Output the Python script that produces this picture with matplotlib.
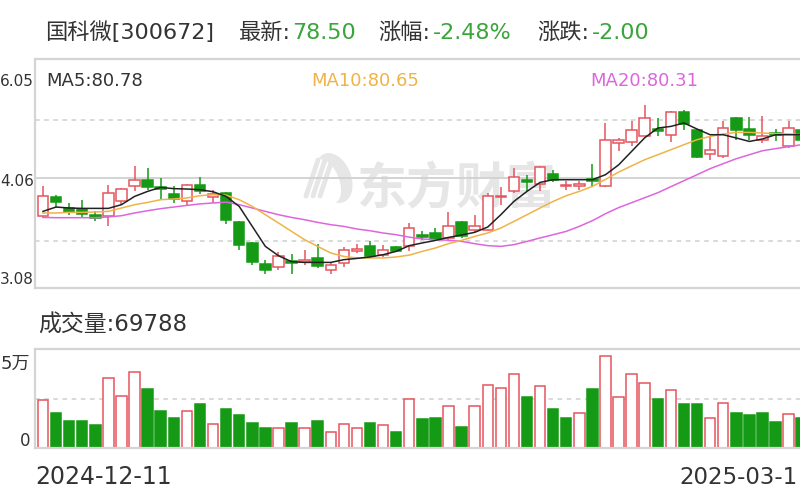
import numpy as np
import matplotlib.pyplot as plt
from matplotlib.patches import Rectangle, Ellipse
from matplotlib.transforms import Affine2D

plt.rcParams['font.family'] = ['DejaVu Sans', 'Noto Sans CJK SC']

########################################################################
# Data
########################################################################
opens = [79.89, 81.91, 80.74, 80.67, 79.93, 79.89, 81.55, 83.21, 83.79, 83.10,
         82.32, 81.47, 83.32, 81.91, 82.40, 79.15, 76.88, 74.59, 74.22, 74.86,
         74.73, 75.22, 73.85, 74.67, 75.95, 76.58, 75.58, 76.39, 76.50, 77.74,
         77.98, 77.43, 79.15, 78.34, 78.34, 81.96, 82.58, 83.79, 83.43, 84.53,
         83.13, 83.21, 83.95, 83.13, 87.93, 88.04, 88.73, 89.47, 88.84, 91.31,
         89.32, 86.74, 86.52, 90.69, 89.47, 88.29, 89.03, 87.55, 89.39]
highs = [83.21, 82.21, 81.30, 81.66, 80.37, 83.32, 82.99, 85.34, 85.16, 84.09,
         83.13, 83.43, 84.17, 82.76, 82.54, 79.34, 77.02, 75.03, 75.91, 75.69,
         76.13, 76.76, 74.73, 76.39, 76.80, 77.05, 76.69, 76.58, 79.09, 78.16,
         78.53, 80.26, 79.34, 80.00, 82.40, 83.06, 85.16, 84.42, 85.42, 84.97,
         83.68, 83.68, 85.64, 90.14, 88.48, 90.39, 92.16, 90.69, 91.44, 91.53,
         89.51, 88.65, 90.31, 90.83, 90.80, 90.86, 89.47, 90.31, 89.62]
lows = [79.67, 80.78, 80.00, 79.64, 79.26, 78.79, 81.11, 82.65, 82.76, 81.66,
        81.30, 81.11, 82.32, 81.30, 79.01, 76.13, 74.48, 73.48, 73.92, 73.48,
        74.48, 74.11, 73.48, 74.22, 75.77, 75.22, 75.33, 75.91, 75.95, 77.24,
        77.05, 77.24, 77.43, 78.05, 78.16, 81.11, 82.40, 82.58, 82.58, 83.57,
        82.69, 82.76, 83.13, 83.04, 87.00, 87.55, 88.65, 88.65, 87.99, 89.39,
        86.27, 86.08, 86.27, 88.29, 88.29, 87.93, 88.10, 87.37, 88.07]
closes = [82.02, 81.41, 80.26, 80.08, 79.64, 82.40, 82.88, 83.87, 83.06, 82.88,
          81.74, 83.32, 82.58, 82.29, 79.45, 76.69, 74.73, 73.92, 75.47, 74.70,
          75.03, 74.29, 74.48, 76.13, 76.21, 75.47, 76.13, 76.02, 78.53, 77.57,
          77.32, 78.71, 77.60, 78.79, 82.10, 82.10, 84.17, 83.57, 85.27, 83.79,
          83.28, 83.43, 83.76, 88.29, 88.29, 89.32, 90.69, 89.28, 91.31, 90.06,
          86.38, 87.18, 89.58, 89.32, 88.84, 88.65, 88.84, 89.58, 88.29]

ma5 = [80.37, 80.85, 80.74, 80.70, 80.70, 80.70, 81.11, 82.02, 82.58, 83.02,
       82.88, 82.84, 82.76, 82.54, 82.02, 80.92, 78.71, 76.50, 75.47, 74.81,
       74.73, 74.73, 74.73, 75.03, 75.17, 75.33, 75.58, 75.95, 76.58, 76.88,
       77.16, 77.49, 77.76, 78.05, 78.64, 80.00, 81.47, 82.58, 83.57, 83.87,
       83.87, 83.87, 83.87, 84.42, 85.50, 87.00, 88.50, 89.58, 89.76, 90.14,
       89.47, 88.84, 88.84, 88.48, 88.10, 88.37, 88.84, 88.84, 88.84]
ma10 = [80.19, 80.19, 80.26, 80.26, 80.30, 80.37, 80.74, 81.11, 81.36, 81.66,
        81.74, 81.85, 82.10, 82.21, 82.16, 81.66, 80.92, 80.00, 79.09, 78.16,
        77.24, 76.50, 75.77, 75.39, 75.22, 75.22, 75.22, 75.33, 75.53, 75.95,
        76.32, 76.80, 77.16, 77.60, 77.98, 78.53, 79.26, 80.00, 80.74, 81.47,
        82.10, 82.58, 83.13, 83.90, 84.70, 85.40, 86.08, 86.63, 87.18, 87.74,
        88.29, 88.65, 88.92, 89.10, 89.10, 89.03, 88.95, 88.92, 88.84]
ma20 = [79.70, 79.67, 79.67, 79.67, 79.67, 79.75, 79.89, 80.19, 80.44, 80.67,
        80.85, 81.03, 81.19, 81.30, 81.38, 81.11, 80.74, 80.37, 80.00, 79.70,
        79.45, 79.15, 78.90, 78.71, 78.42, 78.23, 77.98, 77.79, 77.52, 77.32,
        77.24, 77.18, 77.05, 76.80, 76.58, 76.50, 76.69, 77.05, 77.43, 77.79,
        78.16, 78.71, 79.34, 80.11, 80.78, 81.33, 81.88, 82.43, 83.10, 83.76,
        84.42, 85.09, 85.64, 86.19, 86.63, 87.07, 87.30, 87.52, 87.74]

# volume in 万 (10k), 1 = red (up) bar, 0 = green
volume = [7.27, 5.35, 4.05, 4.05, 3.44, 10.65, 7.88, 11.52, 8.94, 5.61,
          4.50, 5.61, 6.62, 3.64, 5.86, 4.95, 3.83, 3.03, 3.03, 3.83,
          3.03, 4.05, 2.42, 3.64, 3.03, 3.83, 3.44, 2.38, 7.42, 4.35,
          4.55, 6.41, 3.23, 6.41, 9.55, 9.14, 11.26, 7.68, 9.35, 5.86,
          4.55, 5.35, 8.94, 13.98, 7.68, 11.26, 9.80, 7.47, 8.74, 6.62,
          6.62, 4.55, 6.82, 5.35, 4.95, 5.35, 3.89, 5.15, 4.55]
vol_rise = [1, 0, 0, 0, 0, 1, 1, 1, 0, 0, 0, 1, 0, 1, 0, 0, 0, 0, 1, 0,
            1, 0, 1, 1, 1, 0, 1, 0, 1, 0, 0, 1, 0, 1, 1, 1, 1, 0, 1, 0,
            0, 1, 0, 1, 1, 1, 1, 0, 1, 0, 0, 1, 1, 0, 0, 0, 0, 1, 0]

# axis texts as far as they are visible in the (cropped) picture
price_ticks = ['6.05', '4.06', '3.08']
price_range = (71.90, 97.21)
price_mid = 84.06
price_dash = [90.50, 77.13]
vol_ticks = ['5万', '0']
vol_top = 15.0
dates = ['2024-12-11', '2025-03-1']

title_parts = [('国科微[300672]', 'k'), ('最新:', 'k'), ('78.50', 'g'),
               ('涨幅:', 'k'), ('-2.48%', 'g'), ('涨跌:', 'k'), ('-2.00', 'g')]
ma_labels = ['MA5:80.78', 'MA10:80.65', 'MA20:80.31']
vol_label = '成交量:69788'

########################################################################
# Style
########################################################################
RED = '#e5555e'
GREEN = '#159a15'
TXT = '#333333'
TXT_G = '#3aa53a'
MA_COL = ['#222222', '#efb347', '#dd66dd']
BORDER = '#d4d4d4'
GRID = '#d0d0d0'
WM = '#e6e6e6'

W, H = 800, 500
fig = plt.figure(figsize=(8, 5), dpi=100)
fig.patch.set_facecolor('white')
# pixel coords measured from the top-left corner
PIX = Affine2D().scale(1 / W, -1 / H).translate(0, 1) + fig.transFigure


def box(l, t, r, b):
    return [l / W, 1 - b / H, (r - l) / W, (b - t) / H]


def put(x, y, s, **kw):
    kw.setdefault('color', TXT)
    kw.setdefault('va', 'baseline')
    fig.text(x / W, 1 - y / H, s, **kw)


ax = fig.add_axes(box(35, 59, 820, 288))
axv = fig.add_axes(box(35, 349, 820, 448))
n = len(closes)
x = np.arange(n)

for a in (ax, axv):
    a.set_xlim(-0.61, 59.4)
    a.set_xticks([])
    a.set_yticks([])
    for s in ('top', 'left', 'bottom'):
        a.spines[s].set_color(BORDER)
        a.spines[s].set_linewidth(1.6)
    a.spines['right'].set_visible(False)

########################################################################
# Price panel
########################################################################
ax.set_ylim(*price_range)
ax.axhline(price_mid, color=GRID, lw=1.3, zorder=1)
for v in price_dash:
    ax.axhline(v, color=GRID, lw=1.1, ls=(0, (3, 3)), zorder=1)

# watermark: rough logo + name
ax.add_patch(Ellipse((334, 178), 34, 52, angle=-22, facecolor=WM,
                     edgecolor='none', transform=PIX, zorder=0.5))
ax.add_patch(Ellipse((327, 181), 24, 46, angle=-22, facecolor='white',
                     edgecolor='none', transform=PIX, zorder=0.55))
for dx in (0, 7, 14):
    ax.plot([306 + dx, 318 + dx], [196, 160], color=WM, lw=3.5,
            solid_capstyle='round', transform=PIX, zorder=0.6)
ax.text(356, 204, '东方财富', transform=PIX, fontsize=36, color=WM,
        fontweight='bold', family='Noto Sans CJK SC', zorder=0.6)

for i in x:
    o, h, l, c = opens[i], highs[i], lows[i], closes[i]
    up = c >= o
    col = RED if up else GREEN
    top, bot = max(o, c), min(o, c)
    ax.vlines(i, top, h, color=col, lw=1.1, zorder=2)
    ax.vlines(i, l, bot, color=col, lw=1.1, zorder=2)
    ax.add_patch(Rectangle((i - 0.4, bot), 0.8, max(top - bot, 0.03),
                           facecolor='white' if up else col, edgecolor=col,
                           lw=1.1, zorder=2.5))

for ma, col in zip((ma20, ma10, ma5), MA_COL[::-1]):
    ax.plot(x, ma, color=col, lw=1.1, zorder=3)

########################################################################
# Volume panel
########################################################################
axv.set_ylim(0, vol_top)
axv.axhline(vol_top / 2, color=GRID, lw=1.1, ls=(0, (3, 3)), zorder=1)
fc = ['white' if r else GREEN for r in vol_rise]
ec = [RED if r else GREEN for r in vol_rise]
axv.bar(x, volume, width=0.8, color=fc, edgecolor=ec, lw=1.1, zorder=2)

########################################################################
# Texts
########################################################################
title_x = [45, 239, 292, 378, 433, 537, 592]
for (s, c), tx in zip(title_parts, title_x):
    put(tx, 39, s, fontsize=16, color=TXT_G if c == 'g' else TXT)

for s, tx, col in zip(ma_labels, [46, 311, 590], [TXT, MA_COL[1], MA_COL[2]]):
    put(tx, 86, s, fontsize=13, color=col)

for s, ty in zip(price_ticks, [86, 186, 284]):
    put(0, ty, s, fontsize=11)

put(1, 369, vol_ticks[0], fontsize=13)
put(30, 446, vol_ticks[1], fontsize=12, ha='right')
put(38, 332, vol_label, fontsize=16.5)
put(35, 484, dates[0], fontsize=17)
put(679, 484, dates[1], fontsize=16.5)

fig.savefig('out.png', dpi=100)
